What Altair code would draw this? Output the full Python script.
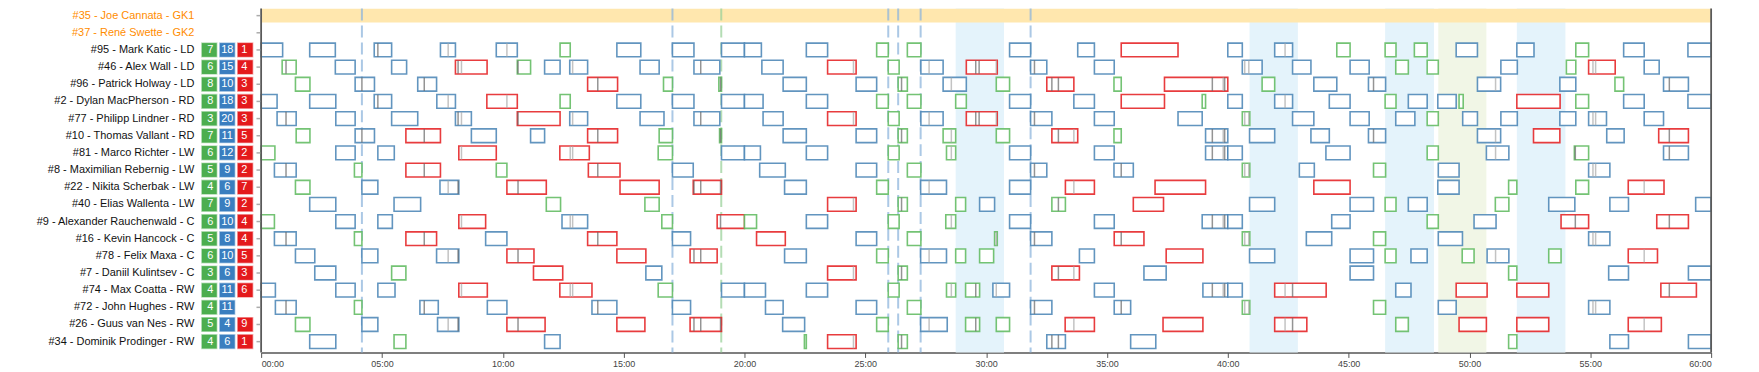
import altair as alt
import pandas as pd

players = [
    "#35 - Joe Cannata - GK1", "#37 - René Swette - GK2",
    "#95 - Mark Katic - LD", "#46 - Alex Wall - LD", "#96 - Patrick Holway - LD",
    "#2 - Dylan MacPherson - RD", "#77 - Philipp Lindner - RD", "#10 - Thomas Vallant - RD",
    "#81 - Marco Richter - LW", "#8 - Maximilian Rebernig - LW", "#22 - Nikita Scherbak - LW",
    "#40 - Elias Wallenta - LW", "#9 - Alexander Rauchenwald - C", "#16 - Kevin Hancock - C",
    "#78 - Felix Maxa - C", "#7 - Daniil Kulintsev - C", "#74 - Max Coatta - RW",
    "#72 - John Hughes - RW", "#26 - Guus van Nes - RW", "#34 - Dominik Prodinger - RW",
]
roles = ["gk", "gk"] + ["sk"] * 18

# shifts: (start minute, end minute, category g/b/r)
katic = [(0.00,0.89,"b"),(2.01,3.07,"b"),(4.68,5.40,"b"),(7.42,8.04,"b"),(9.73,10.60,"b"),(12.37,12.79,"g"),(14.72,15.71,"b"),(17.02,17.91,"b"),(19.05,20.00,"b"),(20.00,20.70,"b"),(22.56,23.44,"b"),(25.47,25.95,"g"),(26.74,27.30,"g"),(30.97,31.84,"b"),(33.79,34.48,"b"),(35.59,37.94,"r"),(40.00,40.60,"b"),(41.94,42.68,"b"),(44.51,45.06,"g"),(46.51,46.96,"g"),(47.72,48.25,"g"),(49.45,50.33,"b"),(51.96,52.67,"b"),(54.40,54.93,"g"),(56.38,57.23,"b"),(59.04,60.00,"b")]
wall = [(0.87,1.45,"g"),(3.07,3.89,"b"),(5.40,6.02,"b"),(8.04,9.35,"r"),(10.60,11.15,"g"),(11.73,12.37,"b"),(12.77,13.51,"b"),(15.68,16.47,"b"),(17.91,18.98,"b"),(20.72,21.60,"b"),(23.44,24.62,"r"),(25.95,26.40,"g"),(27.30,28.22,"b"),(29.18,30.46,"r"),(31.84,32.51,"b"),(34.48,35.30,"b"),(40.60,41.42,"b"),(42.68,43.44,"b"),(45.06,45.85,"b"),(46.95,47.47,"g"),(48.25,48.71,"g"),(51.30,51.98,"b"),(54.01,54.40,"g"),(54.93,56.03,"r"),(57.23,57.85,"b")]
holway = [(1.42,2.02,"g"),(3.89,4.69,"b"),(6.48,7.26,"b"),(13.51,14.75,"r"),(16.65,17.02,"g"),(18.94,19.05,"g"),(21.60,22.56,"b"),(24.62,25.47,"b"),(26.36,26.74,"g"),(28.22,29.18,"b"),(30.42,30.97,"g"),(32.51,33.63,"r"),(35.29,35.59,"g"),(37.38,40.00,"r"),(41.42,41.94,"g"),(43.56,44.51,"b"),(45.82,46.53,"b"),(50.33,51.29,"b"),(53.74,54.40,"b"),(56.02,56.38,"g"),(58.03,59.06,"b")]
macpherson = [(0.00,0.66,"b"),(2.01,3.09,"b"),(4.68,5.40,"b"),(7.27,8.04,"b"),(9.34,10.60,"r"),(12.37,12.79,"g"),(14.72,15.71,"b"),(17.02,17.91,"b"),(19.05,20.00,"b"),(20.00,20.77,"b"),(22.56,23.44,"b"),(25.47,25.95,"g"),(26.74,27.30,"g"),(28.74,29.18,"g"),(30.97,31.84,"b"),(33.63,34.48,"b"),(35.59,37.38,"r"),(38.94,39.08,"g"),(40.00,40.60,"b"),(41.94,42.68,"b"),(44.20,45.06,"b"),(46.51,46.96,"g"),(47.47,48.25,"b"),(48.69,49.45,"b"),(49.57,49.74,"g"),(51.96,53.75,"r"),(54.40,54.93,"g"),(56.38,57.23,"b"),(59.04,60.00,"b")]
lindner = [(0.66,1.45,"b"),(3.09,3.89,"b"),(5.40,6.48,"b"),(8.04,8.70,"b"),(10.60,12.37,"r"),(12.77,13.51,"b"),(15.68,16.67,"b"),(17.91,18.98,"b"),(20.77,21.60,"b"),(23.44,24.62,"r"),(25.95,26.40,"g"),(27.30,28.22,"b"),(29.18,30.46,"r"),(31.84,32.72,"b"),(34.48,35.30,"b"),(37.94,38.94,"b"),(40.60,40.91,"g"),(42.68,43.56,"b"),(45.06,45.85,"b"),(46.95,47.74,"b"),(48.25,48.71,"g"),(49.72,50.33,"b"),(51.30,51.98,"b"),(53.74,54.40,"b"),(54.93,55.67,"b"),(57.23,58.03,"b")]
vallant = [(1.45,2.02,"g"),(3.89,4.69,"b"),(5.99,7.42,"r"),(8.70,9.73,"b"),(11.15,11.73,"b"),(13.51,14.75,"r"),(16.47,17.02,"g"),(18.97,19.05,"g"),(21.60,22.56,"b"),(24.62,25.47,"b"),(26.36,26.74,"g"),(28.22,28.74,"g"),(30.42,30.97,"g"),(32.72,33.79,"r"),(35.29,35.59,"g"),(39.08,40.00,"b"),(40.90,41.94,"b"),(43.44,44.20,"b"),(45.82,46.53,"b"),(50.33,51.29,"b"),(52.65,53.74,"r"),(55.68,56.40,"b"),(57.83,59.06,"r")]
richter = [(0.00,0.57,"g"),(3.09,3.89,"b"),(4.83,5.51,"b"),(8.18,9.73,"r"),(12.36,13.58,"r"),(16.43,17.02,"g"),(19.05,20.00,"b"),(20.00,20.66,"b"),(22.56,23.44,"b"),(25.95,26.40,"g"),(28.36,28.74,"g"),(30.97,31.84,"b"),(34.48,35.30,"b"),(39.08,40.00,"b"),(40.00,40.60,"b"),(44.06,45.06,"b"),(48.25,48.71,"g"),(50.70,51.63,"b"),(54.34,54.93,"g"),(58.03,59.06,"b")]
rebernig = [(0.55,1.45,"b"),(3.86,4.17,"g"),(5.99,7.42,"r"),(9.73,10.17,"g"),(13.54,14.85,"r"),(17.02,17.88,"b"),(20.63,21.69,"b"),(24.62,25.47,"b"),(26.74,27.30,"g"),(31.84,32.51,"b"),(35.29,36.09,"b"),(40.60,40.91,"g"),(42.96,43.58,"b"),(46.03,46.53,"g"),(48.71,49.57,"b"),(54.93,55.81,"b")]
scherbak = [(1.42,2.02,"g"),(4.17,4.83,"b"),(7.40,8.18,"b"),(10.17,11.80,"r"),(14.85,16.47,"r"),(17.88,19.05,"r"),(21.66,22.56,"b"),(25.47,25.95,"g"),(27.29,28.36,"b"),(30.97,31.84,"b"),(33.28,34.48,"r"),(36.99,39.08,"r"),(43.56,45.06,"r"),(48.69,49.57,"b"),(51.62,51.96,"g"),(54.40,54.93,"g"),(56.57,58.05,"r")]
wallenta = [(2.01,3.09,"b"),(5.50,6.60,"b"),(11.80,12.39,"g"),(15.88,16.47,"g"),(23.44,24.62,"r"),(26.36,26.74,"g"),(28.74,29.15,"g"),(29.73,30.35,"b"),(32.72,33.28,"g"),(36.09,37.34,"r"),(40.90,41.94,"b"),(45.06,46.03,"b"),(46.51,46.96,"g"),(47.47,48.25,"b"),(51.07,51.63,"g"),(53.28,54.36,"b"),(55.81,56.58,"b"),(59.36,60.00,"b")]
rauchenwald = [(0.00,0.55,"g"),(3.09,3.89,"b"),(4.83,5.43,"b"),(8.18,9.29,"r"),(12.45,13.51,"b"),(16.58,17.02,"g"),(18.87,20.00,"r"),(20.00,20.50,"g"),(22.56,23.44,"b"),(25.95,26.40,"g"),(28.33,28.74,"g"),(30.97,31.84,"b"),(34.48,35.30,"b"),(38.94,40.00,"b"),(40.00,40.60,"b"),(44.30,45.06,"b"),(48.25,48.71,"g"),(50.19,51.10,"b"),(53.79,54.93,"r"),(57.75,59.06,"r")]
hancock = [(0.55,1.45,"b"),(3.86,4.17,"g"),(5.99,7.26,"r"),(9.29,10.17,"b"),(13.51,14.72,"r"),(17.02,17.77,"b"),(20.50,21.69,"r"),(24.62,25.47,"b"),(26.74,27.30,"g"),(30.35,30.46,"g"),(31.84,32.72,"b"),(35.30,36.53,"r"),(40.60,40.91,"g"),(43.25,44.30,"b"),(46.03,46.53,"g"),(48.71,49.71,"b"),(54.93,55.81,"b")]
maxa = [(1.42,2.22,"b"),(4.17,4.83,"b"),(7.26,8.18,"b"),(10.17,11.29,"r"),(14.72,15.92,"r"),(17.75,18.87,"r"),(21.66,22.56,"b"),(25.47,25.95,"g"),(27.29,28.36,"b"),(28.74,29.15,"g"),(29.73,30.31,"g"),(33.86,34.48,"b"),(37.45,38.97,"r"),(40.90,41.94,"b"),(45.06,46.03,"b"),(46.51,46.96,"g"),(47.58,48.25,"b"),(49.70,50.19,"g"),(50.73,51.63,"b"),(53.28,53.79,"g"),(56.57,57.78,"r")]
kulintsev = [(2.22,3.09,"b"),(5.40,5.99,"g"),(11.27,12.48,"r"),(15.92,16.58,"b"),(23.44,24.62,"r"),(26.36,26.74,"g"),(32.72,33.86,"r"),(36.53,37.45,"b"),(45.06,46.03,"b"),(51.62,51.96,"g"),(55.76,56.58,"b"),(59.06,60.00,"b")]
coatta = [(0.00,0.59,"b"),(3.09,3.89,"b"),(4.83,5.54,"b"),(8.18,9.36,"r"),(12.36,13.69,"r"),(16.43,17.02,"g"),(19.05,20.00,"b"),(20.00,20.87,"b"),(22.56,23.44,"b"),(25.95,26.40,"g"),(28.36,28.74,"g"),(29.15,29.73,"g"),(30.28,30.97,"b"),(34.48,35.30,"b"),(38.97,40.00,"b"),(40.00,40.60,"b"),(41.94,44.07,"r"),(46.95,47.58,"b"),(49.45,50.73,"r"),(51.96,53.28,"r"),(57.92,59.39,"r")]
hughes = [(0.59,1.45,"b"),(3.86,4.17,"g"),(6.57,7.33,"b"),(9.36,10.17,"b"),(13.69,14.72,"b"),(17.02,17.77,"b"),(20.87,21.60,"b"),(24.62,25.47,"b"),(26.74,27.30,"g"),(31.84,32.72,"b"),(35.30,35.98,"b"),(40.60,40.91,"g"),(46.03,46.53,"g"),(48.71,49.45,"b"),(54.93,55.81,"b")]
vannes = [(1.42,2.02,"g"),(4.17,4.83,"b"),(7.30,8.18,"b"),(10.17,11.75,"r"),(14.72,15.88,"r"),(17.75,19.05,"r"),(21.58,22.49,"b"),(25.47,25.95,"g"),(27.29,28.39,"b"),(29.15,29.73,"g"),(30.42,30.97,"g"),(33.27,34.48,"r"),(37.32,38.97,"r"),(41.94,43.27,"r"),(46.95,47.47,"g"),(49.57,50.70,"r"),(51.96,53.28,"r"),(56.57,57.94,"r")]
prodinger = [(2.01,3.09,"b"),(5.50,5.99,"g"),(11.73,12.37,"b"),(22.48,22.56,"g"),(23.44,24.62,"r"),(26.36,26.74,"g"),(32.51,33.28,"b"),(35.98,37.02,"b"),(51.62,51.96,"g"),(55.81,56.58,"b"),(59.06,60.00,"b")]

shift_lists = [katic, wall, holway, macpherson, lindner, vallant, richter, rebernig,
               scherbak, wallenta, rauchenwald, hancock, maxa, kulintsev, coatta,
               hughes, vannes, prodinger]

badge_green = [7, 6, 8, 8, 3, 7, 6, 5, 4, 7, 6, 5, 6, 3, 4, 4, 5, 4]
badge_blue = [18, 15, 10, 18, 20, 11, 12, 9, 6, 9, 10, 8, 10, 6, 11, 11, 4, 6]
badge_red = [1, 4, 3, 3, 3, 5, 2, 2, 7, 2, 4, 4, 5, 3, 6, 0, 9, 1]

goal_blue = [4.17, 17.02, 25.95, 26.36, 27.29, 31.84]
goal_green = [19.04]

pp_blue_start = [28.74, 40.90, 46.51, 51.96]
pp_blue_end = [30.74, 42.90, 48.53, 53.97]
pp_green_start = [48.71]
pp_green_end = [50.70]

events_dark = [1.03, 4.17, 4.83, 6.75, 8.15, 10.63, 13.93, 17.91, 18.19, 19.01, 26.50,
               29.57, 29.71, 32.00, 32.72, 32.99, 35.59, 39.36, 39.87, 42.68, 46.03,
               54.38, 58.27]
events_light = [7.74, 8.29, 10.17, 12.79, 12.89, 24.51, 27.64, 28.56, 30.42, 33.63,
                39.81, 40.70, 40.87, 42.37, 51.08, 55.11, 55.22, 57.23]

skaters = players[2:]

# ---- tables
shift_rows, ev_rows = [], []
for p, lst in zip(skaters, shift_lists):
    for s, e, c in lst:
        shift_rows.append({"player": p, "start": s, "end": e, "cat": c})
        for kind, evs in (("dark", events_dark), ("light", events_light)):
            for t in evs:
                if s + 0.02 < t < e - 0.02:
                    ev_rows.append({"player": p, "t": t, "ekind": kind})
shifts = pd.DataFrame(shift_rows)
events = pd.DataFrame(ev_rows)

badge_rows = []
for p, g, b, r in zip(skaters, badge_green, badge_blue, badge_red):
    for c, n in (("g", g), ("b", b), ("r", r)):
        if n > 0:
            badge_rows.append({"player": p, "bcat": c, "n": n})
badges = pd.DataFrame(badge_rows)

pp = pd.DataFrame(
    [{"s": s, "e": e, "pk": "b"} for s, e in zip(pp_blue_start, pp_blue_end)]
    + [{"s": s, "e": e, "pk": "g"} for s, e in zip(pp_green_start, pp_green_end)]
)
goals = pd.DataFrame([{"t": t, "gk": "b"} for t in goal_blue] + [{"t": t, "gk": "g"} for t in goal_green])
gkband = pd.DataFrame([{"player": players[0], "s": 0, "e": 60}])
frame = pd.DataFrame([{"t": 0}, {"t": 60}])
names = pd.DataFrame({"player": players, "role": roles, "col": "name", "tk": "tick"})

FONT = "Liberation Sans"
xs = alt.Scale(domain=[0, 60], nice=False, zero=False)
ys = alt.Scale(domain=players, range=[-3.3, 344.5], paddingInner=0.2, paddingOuter=0.2)

x_axis = alt.Axis(
    title=None, values=list(range(0, 61, 5)),
    labelExpr="(datum.value < 10 ? '0' : '') + datum.value + ':00'",
    tickSize=5, labelFontSize=9, labelColor="#444", labelFont=FONT,
    domainColor="#555", domainWidth=1.5, tickColor="#555", grid=False, labelPadding=2,
)

# invisible carrier layer for the time axis (first layer)
axes_layer = alt.Chart(gkband).mark_rect(opacity=0).encode(
    x=alt.X("s:Q", scale=xs, axis=x_axis), x2="e:Q",
    y=alt.Y("player:N", scale=ys, axis=None),
)
shade = alt.Chart(pp).mark_rect().encode(
    x=alt.X("s:Q", scale=xs, axis=None),
    x2="e:Q",
    fill=alt.Fill("pk:N", scale=alt.Scale(domain=["b", "g"], range=["#e4f3fb", "#f1f6e6"]), legend=None),
)
gk = alt.Chart(gkband).mark_rect(fill="#ffe7ae").encode(
    x=alt.X("s:Q", scale=xs, axis=None), x2="e:Q",
    y=alt.Y("player:N", scale=ys, axis=None),
)
goal_lines = alt.Chart(goals).mark_rule(strokeWidth=2, strokeDash=[12, 5], opacity=0.75).encode(
    x=alt.X("t:Q", scale=xs, axis=None),
    stroke=alt.Stroke("gk:N", scale=alt.Scale(domain=["b", "g"], range=["#8fb5dc", "#9bd19b"]), legend=None),
)
boxes = alt.Chart(shifts).mark_rect(fill="white", strokeWidth=1.6, strokeOpacity=0.85).encode(
    x=alt.X("start:Q", scale=xs, axis=None), x2="end:Q",
    y=alt.Y("player:N", scale=ys, axis=None),
    stroke=alt.Stroke("cat:N", scale=alt.Scale(domain=["g", "b", "r"], range=["#5cb85c", "#4682b4", "#e41a1c"]), legend=None),
)
ticks = alt.Chart(events).mark_tick(orient="vertical", thickness=1.5, size=13.5).encode(
    x=alt.X("t:Q", scale=xs, axis=None),
    y=alt.Y("player:N", scale=ys, axis=None),
    color=alt.Color("ekind:N", scale=alt.Scale(domain=["dark", "light"], range=["#666666", "#aaaaaa"]), legend=None),
)
# left axis line and right border of the time area
frame_lines = alt.Chart(frame).mark_rule(color="#5a5a5a", strokeWidth=1.8).encode(
    x=alt.X("t:Q", scale=xs, axis=None)
)
row_ticks = alt.Chart(names).mark_tick(orient="horizontal", size=4.5, thickness=1.5, color="#888").encode(
    x=alt.X("tk:N", scale=alt.Scale(type="point", domain=["tick"], range=[-2.4, -2.4]), axis=None),
    y=alt.Y("player:N", scale=ys, axis=None),
)

bx = alt.Scale(domain=["g", "b", "r"], range=[-59.5, -8.5], paddingInner=0.17, paddingOuter=0)
badge_colors = alt.Scale(domain=["g", "b", "r"], range=["#4cae4f", "#3a7ebf", "#e41a1c"])
badge_rect = alt.Chart(badges).mark_rect(strokeWidth=1.5, strokeOpacity=0.35).encode(
    x=alt.X("bcat:N", scale=bx, axis=None),
    y=alt.Y("player:N", scale=ys, axis=None),
    fill=alt.Fill("bcat:N", scale=badge_colors, legend=None),
    stroke=alt.Stroke("bcat:N", scale=badge_colors, legend=None),
)
badge_text = alt.Chart(badges).mark_text(color="white", fontSize=11, font=FONT, baseline="middle", align="center").encode(
    x=alt.X("bcat:N", scale=bx, axis=None),
    y=alt.Y("player:N", scale=ys, axis=None),
    text="n:Q",
)
name_text = alt.Chart(names).mark_text(fontSize=11, font=FONT, baseline="middle", align="right").encode(
    x=alt.X("col:N", scale=alt.Scale(type="point", domain=["name"], range=[-67, -67]), axis=None),
    y=alt.Y("player:N", scale=ys, axis=None),
    text="player:N",
    color=alt.Color("role:N", scale=alt.Scale(domain=["gk", "sk"], range=["#ff8c00", "#111111"]), legend=None),
)

chart = alt.layer(
    axes_layer, shade, gk, goal_lines, boxes, ticks, frame_lines, row_ticks,
    badge_rect, badge_text, name_text
).resolve_scale(
    x="independent", fill="independent", stroke="independent", color="independent"
).properties(
    width=1455, height=345,
    padding={"left": 254, "top": 0, "right": 40, "bottom": 19},
    autosize=alt.AutoSizeParams(type="none"),
).configure_view(stroke=None)

chart.save("out.html", embed_options={"renderer": "svg", "actions": False})
